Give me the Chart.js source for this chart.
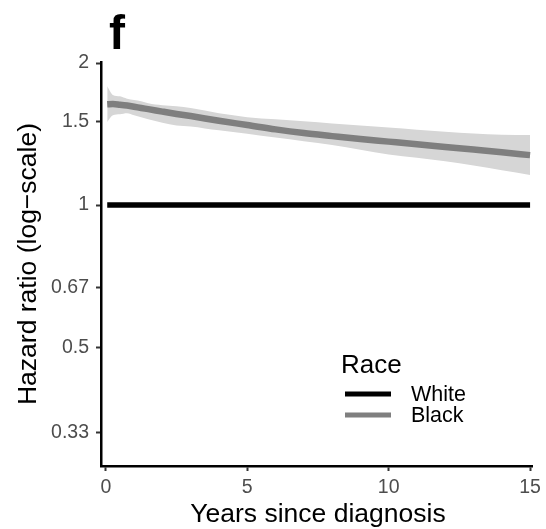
<!DOCTYPE html>
<html>
<head>
<meta charset="utf-8">
<script src="https://cdn.jsdelivr.net/npm/chart.js@4/dist/chart.umd.min.js"></script>
<style>
  html, body { margin: 0; padding: 0; background: #ffffff; }
  #wrap { position: relative; width: 546px; height: 529px; }
  canvas { display: block; }
</style>
</head>
<body>
<div id="wrap"><canvas id="c" width="546" height="529"></canvas></div>
<script>
// ---- data ----
const panelLabel = "f";
const xTitle = "Years since diagnosis";
const yTitle = "Hazard ratio (log\u2212scale)";
const legendTitle = "Race";
const seriesNames = ["White", "Black"];
const seriesColors = ["#000000", "#7f7f7f"];
const bandColor = "#d6d6d6";

const xTickValues = [0, 5, 10, 15];
const xTickLabels = ["0", "5", "10", "15"];
const yTickValues = [0.33, 0.5, 0.67, 1, 1.5, 2];
const yTickLabels = ["0.33", "0.5", "0.67", "1", "1.5", "2"];

const whiteYears = [0.05, 15];
const whiteHR = [1, 1];

const years = [0.05, 0.25, 0.5, 0.75, 1, 1.25, 1.5, 2, 2.5, 3, 4, 5, 6, 7, 8, 9, 10, 11, 12, 13, 14, 15];
const blackHR = [1.635, 1.638, 1.632, 1.625, 1.616, 1.606, 1.597, 1.578, 1.56, 1.544, 1.509, 1.478, 1.447, 1.421, 1.400, 1.380, 1.363, 1.346, 1.328, 1.311, 1.294, 1.276];
const blackUpper = [1.785, 1.711, 1.70, 1.68, 1.67, 1.66, 1.643, 1.628, 1.62, 1.605, 1.565, 1.536, 1.52, 1.505, 1.489, 1.475, 1.46, 1.445, 1.431, 1.418, 1.41, 1.407];
const blackLower = [1.50, 1.55, 1.558, 1.565, 1.55, 1.535, 1.52, 1.495, 1.475, 1.468, 1.44, 1.416, 1.39, 1.365, 1.34, 1.31, 1.28, 1.26, 1.238, 1.213, 1.185, 1.158];

// ---- build ----
const pts = (xs, ys) => xs.map((x, i) => ({ x: x, y: ys[i] }));
const FONT = "'Liberation Sans', Arial, Helvetica, sans-serif";

const decorations = {
  id: "decorations",
  afterDraw(chart) {
    const ctx = chart.ctx;
    const ca = chart.chartArea;
    ctx.save();
    ctx.fillStyle = "#000";
    // panel label
    ctx.font = "bold 48px " + FONT;
    ctx.textAlign = "left";
    ctx.textBaseline = "alphabetic";
    ctx.fillText(panelLabel, 109, 49);
    // x title
    ctx.font = "26.5px " + FONT;
    ctx.textAlign = "center";
    ctx.fillText(xTitle, (ca.left + ca.right) / 2 + 1, 522);
    // y title
    ctx.save();
    ctx.translate(36, (ca.top + ca.bottom) / 2);
    ctx.rotate(-Math.PI / 2);
    ctx.fillText(yTitle, 0, 0);
    ctx.restore();
    // legend
    ctx.textAlign = "left";
    ctx.font = "26px " + FONT;
    ctx.fillText(legendTitle, 341, 373);
    ctx.font = "21.5px " + FONT;
    ctx.textBaseline = "middle";
    const rows = [394, 415];
    seriesNames.forEach((name, i) => {
      ctx.strokeStyle = seriesColors[i];
      ctx.lineWidth = 5;
      ctx.beginPath();
      ctx.moveTo(345, rows[i]);
      ctx.lineTo(391, rows[i]);
      ctx.stroke();
      ctx.fillStyle = "#000";
      ctx.fillText(name, 411, rows[i] + 1);
    });
    ctx.restore();
  }
};

new Chart(document.getElementById("c"), {
  type: "line",
  data: {
    datasets: [
      { label: seriesNames[0], data: pts(whiteYears, whiteHR), borderColor: seriesColors[0], borderWidth: 5.5, pointRadius: 0, fill: false, tension: 0 },
      { label: seriesNames[1], data: pts(years, blackHR), borderColor: seriesColors[1], borderWidth: 6.5, pointRadius: 0, fill: false, cubicInterpolationMode: "monotone" },
      { label: "upper", data: pts(years, blackUpper), borderWidth: 0, borderColor: "rgba(0,0,0,0)", pointRadius: 0, fill: false, cubicInterpolationMode: "monotone" },
      { label: "lower", data: pts(years, blackLower), borderWidth: 0, borderColor: "rgba(0,0,0,0)", pointRadius: 0, fill: "-1", backgroundColor: bandColor, cubicInterpolationMode: "monotone" }
    ]
  },
  options: {
    responsive: false,
    animation: false,
    events: [],
    layout: { padding: { top: 62, right: 12, left: 0, bottom: 0 } },
    plugins: { legend: { display: false }, tooltip: { enabled: false }, title: { display: false } },
    scales: {
      x: {
        type: "linear",
        min: -0.17,
        max: 15.1,
        afterFit(s) { s.height = 63; },
        afterBuildTicks(s) { s.ticks = xTickValues.map(v => ({ value: v })); },
        ticks: {
          autoSkip: false, maxRotation: 0, padding: 5,
          color: "#4d4d4d", font: { family: FONT, size: 19.5 },
          callback: (v, i) => xTickLabels[i]
        },
        grid: { display: true, drawOnChartArea: false, drawTicks: true, tickLength: 5, tickColor: "#333333", tickWidth: 2 },
        border: { display: true, color: "#000000", width: 2.5 }
      },
      y: {
        type: "logarithmic",
        min: 0.28,
        max: 2.01,
        afterFit(s) { s.width = 101; },
        afterBuildTicks(s) { s.ticks = yTickValues.map(v => ({ value: v })); },
        ticks: {
          autoSkip: false, padding: 7,
          color: "#4d4d4d", font: { family: FONT, size: 19.5 },
          callback: (v, i) => yTickLabels[i]
        },
        grid: { display: true, drawOnChartArea: false, drawTicks: true, tickLength: 5, tickColor: "#333333", tickWidth: 2 },
        border: { display: true, color: "#000000", width: 2.5 }
      }
    }
  },
  plugins: [decorations]
});
</script>
</body>
</html>
